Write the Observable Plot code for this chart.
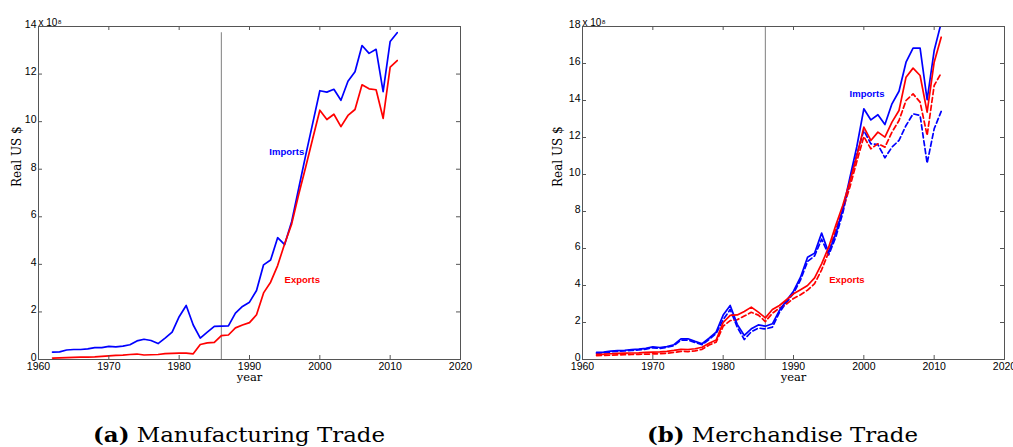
<!DOCTYPE html>
<html>
<head>
<meta charset="utf-8">
<script src="https://cdn.jsdelivr.net/npm/d3@7"></script>
<script src="https://cdn.jsdelivr.net/npm/@observablehq/plot@0.6"></script>
<style>
  body { margin: 0; background: #fff; }
  #page { position: relative; width: 1013px; height: 447px; overflow: hidden; background: #fff; }
  .panel { position: absolute; top: 0; }
  #caps { position: absolute; left: 0; top: 390px; }
</style>
</head>
<body>
<div id="page">
  <div id="panelA" class="panel" style="left:0px"></div>
  <div id="panelB" class="panel" style="left:507px"></div>
  <svg id="caps" width="1013" height="57" xmlns="http://www.w3.org/2000/svg">
    <text id="capA" x="93" y="52" font-family="DejaVu Serif" font-size="19.5" fill="#000" textLength="292" lengthAdjust="spacingAndGlyphs"><tspan font-weight="bold">(a)</tspan> Manufacturing Trade</text>
    <text id="capB" x="647" y="52" font-family="DejaVu Serif" font-size="19.5" fill="#000" textLength="271" lengthAdjust="spacingAndGlyphs"><tspan font-weight="bold">(b)</tspan> Merchandise Trade</text>
  </svg>
</div>
<script>
// ---------- data ----------
const years = [1962,1963,1964,1965,1966,1967,1968,1969,1970,1971,
               1972,1973,1974,1975,1976,1977,1978,1979,1980,1981,
               1982,1983,1984,1985,1986,1987,1988,1989,1990,1991,
               1992,1993,1994,1995,1996,1997,1998,1999,2000,2001,
               2002,2003,2004,2005,2006,2007,2008,2009,2010,2011];

// (a) Manufacturing trade, x 10^8 real US $
const mfgImports = [0.31,0.32,0.40,0.42,0.42,0.45,0.50,0.50,0.55,0.53,
                    0.56,0.62,0.78,0.85,0.80,0.67,0.90,1.15,1.80,2.27,
                    1.45,0.90,1.15,1.39,1.40,1.41,1.95,2.23,2.41,2.90,
                    3.98,4.18,5.12,4.83,5.80,7.20,8.60,9.95,11.30,11.24,
                    11.36,10.90,11.70,12.10,13.20,12.87,13.04,11.26,13.37,13.74];
const mfgExports = [0.06,0.07,0.08,0.09,0.10,0.10,0.11,0.13,0.15,0.17,
                    0.18,0.21,0.23,0.19,0.20,0.21,0.25,0.26,0.27,0.27,
                    0.24,0.63,0.70,0.72,1.00,1.03,1.33,1.45,1.55,1.88,
                    2.80,3.25,3.95,4.87,5.70,6.95,8.10,9.30,10.48,10.09,
                    10.31,9.79,10.26,10.51,11.55,11.38,11.34,10.14,12.29,12.57];

// (b) Merchandise trade, x 10^8 real US $
const merchImports = [0.38,0.40,0.45,0.48,0.50,0.53,0.56,0.60,0.68,0.65,
                      0.70,0.80,1.12,1.12,0.98,0.85,1.15,1.48,2.40,2.92,
                      1.90,1.30,1.66,1.87,1.80,1.93,2.65,3.19,3.69,4.45,
                      5.53,5.75,6.83,5.77,6.79,8.09,9.80,11.50,13.55,12.95,
                      13.23,12.70,13.82,14.50,16.07,16.83,16.83,14.04,16.70,18.20];
const merchImportsAlt = [0.33,0.36,0.41,0.44,0.46,0.49,0.52,0.56,0.63,0.60,
                         0.66,0.75,1.05,1.05,0.92,0.80,1.08,1.40,2.15,2.70,
                         1.75,1.08,1.50,1.70,1.65,1.75,2.55,3.08,3.58,4.30,
                         5.30,5.60,6.50,5.65,6.60,7.90,9.60,11.10,12.38,11.66,
                         11.62,10.90,11.48,11.84,12.65,13.28,13.19,10.61,12.47,13.41];
const merchExports = [0.28,0.29,0.31,0.33,0.34,0.35,0.36,0.38,0.40,0.41,
                      0.44,0.49,0.55,0.54,0.58,0.66,0.88,1.05,2.00,2.38,
                      2.41,2.60,2.83,2.56,2.25,2.70,2.92,3.23,3.55,3.77,
                      4.00,4.41,5.17,6.07,7.24,8.32,9.60,11.00,12.56,11.84,
                      12.29,12.02,12.83,13.46,15.26,15.75,15.35,13.37,16.07,17.42];
const merchExportsAlt = [0.21,0.22,0.23,0.25,0.26,0.27,0.28,0.29,0.30,0.31,
                         0.34,0.38,0.44,0.43,0.47,0.55,0.78,0.94,1.80,2.10,
                         2.15,2.35,2.55,2.40,2.05,2.50,2.78,3.00,3.30,3.50,
                         3.75,4.10,4.85,5.80,7.00,8.10,9.30,10.70,12.05,11.39,
                         11.66,11.48,12.29,12.92,14.00,14.36,13.91,12.11,14.81,15.48];

const breakYear = 1986;
const xTicks = [1960,1970,1980,1990,2000,2010,2020];
const yTicksA = [0,2,4,6,8,10,12,14];
const yTicksB = [0,2,4,6,8,10,12,14,16,18];

// label annotations (year, value, text)
const labelsA = [{year:1995.3, value:8.74, text:"Imports", c:"#0000ff"},
                 {year:1997.5, value:3.36, text:"Exports", c:"#ff0000"}];
const labelsB = [{year:2000.45, value:14.36, text:"Imports", c:"#0000ff"},
                 {year:1997.6, value:4.32, text:"Exports", c:"#ff0000"}];

// ---------- build ----------
const BLUE = "#0000ff", RED = "#ff0000";
const rows = arr => years.map((y, i) => ({year: y, value: arr[i]}));

function makeChart({series, yTicks, yMax, labels, marginLeft, marginRight, ylabelDx}) {
  const W = 506, H = 390, mt = 26, mb = 31;
  const innerH = H - mt - mb;
  const innerW = W - marginLeft - marginRight;
  const tickLen = 4;
  const dataMax = Math.min(yMax, d3.max(series.flatMap(s => s.values)));
  const axisColor = "#555";
  const marks = [
    Plot.ruleX([breakYear], {x: d => d, y1: 0, y2: dataMax, stroke: "#8a8a8a", strokeWidth: 1.1}),
    ...series.map(s => Plot.line(rows(s.values), {
      x: "year", y: "value", stroke: s.color, strokeWidth: 1.7,
      strokeDasharray: s.dash ? "5,3" : null, clip: true
    })),
    Plot.tickX(xTicks, {x: d => d, insetTop: innerH - tickLen, stroke: axisColor}),
    Plot.tickX(xTicks, {x: d => d, insetBottom: innerH - tickLen, stroke: axisColor}),
    Plot.tickY(yTicks, {y: d => d, insetRight: innerW - tickLen, stroke: axisColor}),
    Plot.tickY(yTicks, {y: d => d, insetLeft: innerW - tickLen, stroke: axisColor}),
    Plot.frame({stroke: axisColor, strokeWidth: 1}),
    Plot.axisX({ticks: xTicks, tickFormat: d => String(d), tickSize: 0, tickPadding: 3, label: null, fontSize: 10.5, fill: "#000"}),
    Plot.axisY({ticks: yTicks, tickFormat: d => String(d), tickSize: 0, tickPadding: 2, label: null, fontSize: 10.5, fill: "#000", dy: -2}),
    Plot.text(labels, {x: "year", y: "value", text: "text", fill: "c", fontWeight: "bold", fontSize: 9.5,
                       fontFamily: "Liberation Sans, Arial, sans-serif"}),
    Plot.text(["x 10⁸"], {text: d => d, frameAnchor: "top-left", dy: -8, textAnchor: "start",
                          fontSize: 10, fontFamily: "Liberation Sans, Arial, sans-serif"}),
    Plot.text(["Real US $"], {text: d => d, frameAnchor: "left", rotate: -90, dx: ylabelDx, dy: -6,
                              fontSize: 12, fontFamily: "DejaVu Serif, serif"}),
    Plot.text(["year"], {text: d => d, frameAnchor: "bottom", dy: 21,
                         fontSize: 11.5, fontFamily: "DejaVu Serif, serif"})
  ];
  return Plot.plot({
    width: W, height: H,
    marginLeft, marginRight, marginTop: mt, marginBottom: mb,
    x: {domain: [1960, 2020]},
    y: {domain: [0, yMax]},
    style: {fontFamily: "Liberation Sans, Arial, sans-serif", fontSize: "10px", color: "#000", background: "#fff", overflow: "visible"},
    marks
  });
}

document.getElementById("panelA").appendChild(makeChart({
  series: [
    {values: mfgImports, color: BLUE},
    {values: mfgExports, color: RED}
  ],
  yTicks: yTicksA, yMax: 14, labels: labelsA,
  marginLeft: 38, marginRight: 46, ylabelDx: -21
}));

document.getElementById("panelB").appendChild(makeChart({
  series: [
    {values: merchImportsAlt, color: BLUE, dash: true},
    {values: merchExportsAlt, color: RED, dash: true},
    {values: merchImports, color: BLUE},
    {values: merchExports, color: RED}
  ],
  yTicks: yTicksB, yMax: 18, labels: labelsB,
  marginLeft: 75, marginRight: 9, ylabelDx: -24
}));
</script>
</body>
</html>
